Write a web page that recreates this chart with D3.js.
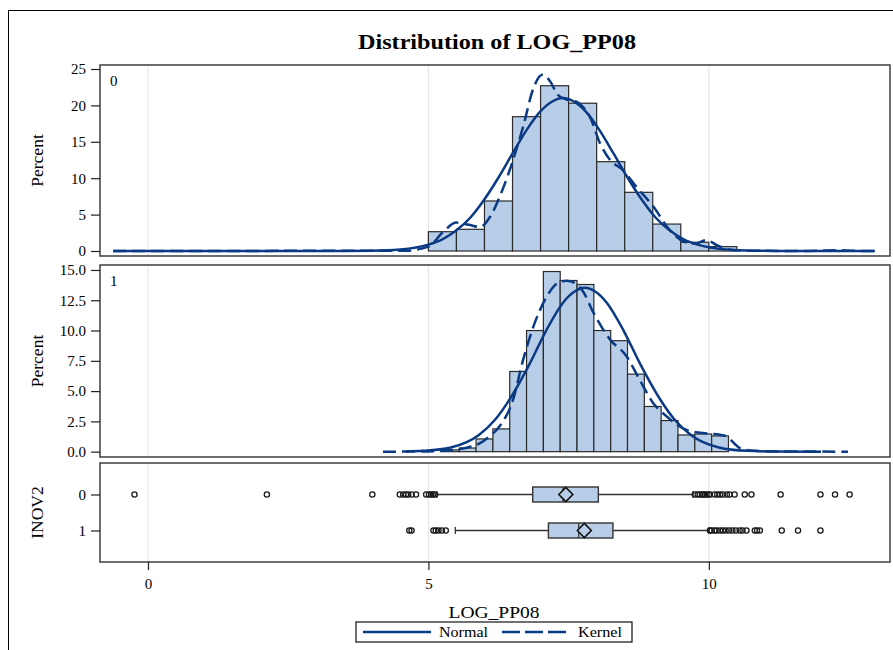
<!DOCTYPE html>
<html>
<head>
<meta charset="utf-8">
<script src="https://cdn.jsdelivr.net/npm/d3@7"></script>
<style>
  body { margin: 0; background: #fff; }
  text { font-family: "Liberation Serif", "Times New Roman", serif; fill: #000; }
</style>
</head>
<body>
<svg id="chart" width="893" height="650"></svg>
<script>
// histogram bins, INOV2 = 0 (midpoints, percent)
const mid0 = [5.25, 5.75, 6.25, 6.75, 7.25, 7.75, 8.25, 8.75, 9.25, 9.75, 10.25];
const pct0 = [2.65, 2.98, 6.87, 18.45, 22.7, 20.3, 12.27, 8.06, 3.7, 1.2, 0.6];
const binW0 = 0.5;
// histogram bins, INOV2 = 1
const mid1 = [5.4, 5.7, 6.0, 6.3, 6.6, 6.9, 7.2, 7.5, 7.8, 8.1, 8.4, 8.7, 9.0, 9.3, 9.6, 9.9, 10.2];
const pct1 = [0.15, 0.3, 1.05, 1.88, 6.62, 10.0, 14.87, 14.13, 13.8, 10.0, 9.16, 6.4, 3.73, 2.57, 1.38, 1.46, 1.3];
const binW1 = 0.3;

// fitted curves: [LOG_PP08, percent]
const normal0 = [[-0.62,0],[3.5,0.01],[4.0,0.03],[4.5,0.2],[5.0,0.87],[5.25,1.6],[5.5,2.84],[5.75,4.6],[6.0,7.1],[6.25,10.1],[6.5,13.4],[6.75,16.6],[7.0,19.2],[7.2,20.5],[7.4,21.0],[7.6,20.5],[7.8,19.2],[8.05,16.6],[8.3,13.4],[8.55,10.1],[8.8,7.1],[9.05,4.6],[9.3,2.84],[9.55,1.6],[9.8,0.87],[10.3,0.2],[10.8,0.03],[11.3,0.01],[12.96,0]];
const kernel0 = [[-0.62,0],[4.6,0.05],[5.0,0.6],[5.26,2.6],[5.5,3.9],[5.72,3.6],[5.92,3.3],[6.1,4.7],[6.3,8.0],[6.51,12.5],[6.69,17.1],[6.87,22.3],[7.03,24.2],[7.18,23.2],[7.3,21.5],[7.46,20.8],[7.64,20.5],[7.88,18.4],[8.06,14.8],[8.24,12.5],[8.47,11.1],[8.71,8.8],[9.01,6.1],[9.3,2.9],[9.55,1.3],[9.75,1.0],[9.96,1.5],[10.14,0.8],[10.43,0.15],[10.8,0.03],[11.8,0.01],[12.25,0.12],[12.6,0.02],[12.96,0]];
const normal1 = [[4.6,0.02],[4.9,0.07],[5.4,0.35],[5.9,1.38],[6.2,2.7],[6.5,4.7],[6.8,7.2],[7.1,10.0],[7.4,12.3],[7.6,13.2],[7.79,13.53],[7.98,13.2],[8.18,12.3],[8.48,10.0],[8.78,7.2],[9.08,4.7],[9.38,2.7],[9.68,1.38],[10.18,0.35],[10.68,0.07],[11.2,0.01],[12.0,0]];
const kernel1 = [[4.19,0],[4.9,0.02],[5.32,0.1],[5.7,0.35],[5.92,0.7],[6.1,1.3],[6.27,2.1],[6.51,4.3],[6.69,7.6],[6.87,10.3],[7.11,12.8],[7.3,13.9],[7.46,14.1],[7.62,13.9],[7.76,13.2],[7.94,11.5],[8.24,9.25],[8.53,7.9],[8.77,5.9],[9.01,4.0],[9.25,2.9],[9.6,1.8],[9.96,1.5],[10.2,1.4],[10.32,1.25],[10.45,0.7],[10.55,0.3],[10.8,0.08],[11.2,0.02],[12.48,0]];

// box plot summary per INOV2 group
const groups = ['0', '1'];
const whiskLo = [5.15, 5.48];
const q1 = [6.86, 7.14];
const median = [7.40, 7.68];
const q3 = [8.03, 8.29];
const whiskHi = [9.72, 10.0];
const means = [7.45, 7.78];
const outliers0 = [-0.24, 2.12, 4.0, 4.49, 4.55, 4.6, 4.64, 4.7, 4.78, 4.96, 5.01, 5.05, 5.08, 5.12, 9.75, 9.8, 9.84, 9.88, 9.9, 9.93, 9.96, 10.0, 10.02, 10.1, 10.15, 10.2, 10.25, 10.32, 10.37, 10.46, 10.64, 10.76, 11.28, 11.99, 12.25, 12.51];
const outliers1 = [4.66, 4.7, 5.09, 5.13, 5.18, 5.24, 5.31, 10.02, 10.05, 10.1, 10.14, 10.2, 10.25, 10.3, 10.36, 10.42, 10.48, 10.55, 10.6, 10.67, 10.82, 10.86, 10.91, 11.3, 11.59, 11.99];

const xTicks = [0, 5, 10];
const yTicks0 = [0, 5, 10, 15, 20, 25];
const yTicks1 = [0, 2.5, 5, 7.5, 10, 12.5, 15];
const legendLabels = ['Normal', 'Kernel'];

const barFill = '#b8cee8';
const lineColor = '#0b3a84';
const frameColor = '#4a4a4a';

const svg = d3.select('#chart');
const left = 100, right = 890;

svg.append('rect').attr('width', 893).attr('height', 650).attr('fill', '#fff');
svg.append('rect')
    .attr('x', 8.5).attr('y', 10.5).attr('width', 900).attr('height', 700)
    .attr('fill', 'none').attr('stroke', '#000').attr('stroke-width', 1);

const x = d3.scaleLinear().domain([-0.855, 13.23]).range([left, right]);

const panels = [
  { top: 65, bottom: 256, y: d3.scaleLinear().domain([-0.687, 25.55]).range([256, 65]),
    mids: mid0, pcts: pct0, w: binW0, normal: normal0, kernel: kernel0, ticks: yTicks0, fmt: d3.format('d'), label: '0' },
  { top: 265, bottom: 457, y: d3.scaleLinear().domain([-0.44, 15.41]).range([457, 265]),
    mids: mid1, pcts: pct1, w: binW1, normal: normal1, kernel: kernel1, ticks: yTicks1, fmt: d3.format('.1f'), label: '1' }
];

function gridlines(top, bottom) {
  svg.append('g').selectAll('line')
    .data(xTicks).enter().append('line')
      .attr('x1', (d) => x(d)).attr('x2', (d) => x(d))
      .attr('y1', top).attr('y2', bottom)
      .attr('stroke', '#e4e4e4').attr('stroke-width', 1);
}

function border(top, bottom) {
  svg.append('rect')
    .attr('x', left).attr('y', top).attr('width', right - left).attr('height', bottom - top)
    .attr('fill', 'none').attr('stroke', frameColor).attr('stroke-width', 1.6);
}

function styleAxis(g) {
  g.select('.domain').remove();
  g.selectAll('.tick line').attr('stroke', '#222').attr('stroke-width', 1.2);
  g.selectAll('.tick text').style('font-size', '15px')
    .style('font-family', '"Liberation Serif", "Times New Roman", serif');
}

panels.forEach((p) => {
  gridlines(p.top, p.bottom);

  const bars = p.mids.map((m, i) => ({ lo: m - p.w / 2, hi: m + p.w / 2, v: p.pcts[i] }));
  svg.append('g').selectAll('rect')
    .data(bars).enter().append('rect')
      .attr('x', (d) => x(d.lo))
      .attr('width', (d) => x(d.hi) - x(d.lo))
      .attr('y', (d) => p.y(d.v))
      .attr('height', (d) => p.y(0) - p.y(d.v))
      .attr('fill', barFill)
      .attr('stroke', '#2b2b2b').attr('stroke-width', 1.2);

  const line = d3.line()
      .x((d) => x(d[0]))
      .y((d) => p.y(d[1]))
      .curve(d3.curveMonotoneX);

  svg.append('path').datum(p.normal)
      .attr('d', line).attr('fill', 'none')
      .attr('stroke', lineColor).attr('stroke-width', 2.5);
  svg.append('path').datum(p.kernel)
      .attr('d', line).attr('fill', 'none')
      .attr('stroke', lineColor).attr('stroke-width', 2.5)
      .attr('stroke-dasharray', '13,6');

  border(p.top, p.bottom);

  svg.append('g')
      .attr('transform', 'translate(' + left + ',0)')
      .call(d3.axisLeft(p.y).tickValues(p.ticks).tickFormat(p.fmt).tickSize(9).tickPadding(5))
      .call(styleAxis);

  svg.append('text')
      .attr('x', 110).attr('y', p.top + 21)
      .style('font-size', '15px')
      .text(p.label);

  svg.append('text')
      .attr('transform', 'translate(43,' + (p.top + p.bottom) / 2 + ') rotate(-90)')
      .attr('text-anchor', 'middle')
      .style('font-size', '17.5px')
      .text('Percent');
});

// box plot panel
const boxTop = 463, boxBottom = 562;
const yb = d3.scalePoint().domain(groups).range([boxTop, boxBottom]).padding(0.875);
gridlines(boxTop, boxBottom);

const boxes = groups.map((g, i) => ({
  g, lo: whiskLo[i], q1: q1[i], med: median[i], q3: q3[i], hi: whiskHi[i], mean: means[i],
  out: i === 0 ? outliers0 : outliers1
}));
const boxH = 15;

const bg = svg.append('g').selectAll('g').data(boxes).enter().append('g');
bg.append('line')
    .attr('x1', (d) => x(d.lo)).attr('x2', (d) => x(d.q1))
    .attr('y1', (d) => yb(d.g)).attr('y2', (d) => yb(d.g))
    .attr('stroke', '#333').attr('stroke-width', 1.3);
bg.append('line')
    .attr('x1', (d) => x(d.q3)).attr('x2', (d) => x(d.hi))
    .attr('y1', (d) => yb(d.g)).attr('y2', (d) => yb(d.g))
    .attr('stroke', '#333').attr('stroke-width', 1.3);
bg.selectAll('.cap').data((d) => [[d.lo, d.g], [d.hi, d.g]]).enter().append('line')
    .attr('x1', (d) => x(d[0])).attr('x2', (d) => x(d[0]))
    .attr('y1', (d) => yb(d[1]) - 3.5).attr('y2', (d) => yb(d[1]) + 3.5)
    .attr('stroke', '#333').attr('stroke-width', 1.3);
bg.append('rect')
    .attr('x', (d) => x(d.q1)).attr('width', (d) => x(d.q3) - x(d.q1))
    .attr('y', (d) => yb(d.g) - boxH / 2).attr('height', boxH)
    .attr('fill', barFill).attr('stroke', '#333').attr('stroke-width', 1.4);
bg.append('line')
    .attr('x1', (d) => x(d.med)).attr('x2', (d) => x(d.med))
    .attr('y1', (d) => yb(d.g) - boxH / 2).attr('y2', (d) => yb(d.g) + boxH / 2)
    .attr('stroke', '#333').attr('stroke-width', 1.3);
bg.append('path')
    .attr('d', (d) => {
      const cx = x(d.mean), cy = yb(d.g);
      return 'M' + (cx - 7) + ',' + cy + 'L' + cx + ',' + (cy - 7) + 'L' + (cx + 7) + ',' + cy + 'L' + cx + ',' + (cy + 7) + 'Z';
    })
    .attr('fill', barFill).attr('stroke', '#111').attr('stroke-width', 1.6);
bg.selectAll('circle').data((d) => d.out.map((v) => [v, d.g])).enter().append('circle')
    .attr('cx', (d) => x(d[0])).attr('cy', (d) => yb(d[1]))
    .attr('r', 2.6)
    .attr('fill', 'none').attr('stroke', '#1a1a1a').attr('stroke-width', 1.3);

border(boxTop, boxBottom);

svg.append('g')
    .attr('transform', 'translate(' + left + ',0)')
    .call(d3.axisLeft(yb).tickSize(9).tickPadding(5))
    .call(styleAxis);

svg.append('g')
    .attr('transform', 'translate(0,' + boxBottom + ')')
    .call(d3.axisBottom(x).tickValues(xTicks).tickFormat(d3.format('d')).tickSize(8).tickPadding(8))
    .call(styleAxis);

svg.append('text')
    .attr('transform', 'translate(43,' + (boxTop + boxBottom) / 2 + ') rotate(-90)')
    .attr('text-anchor', 'middle')
    .style('font-size', '17.5px')
    .text('INOV2');

// titles
svg.append('text')
    .attr('x', 497).attr('y', 49)
    .attr('text-anchor', 'middle')
    .attr('textLength', 278).attr('lengthAdjust', 'spacingAndGlyphs')
    .style('font-size', '22px').style('font-weight', 'bold')
    .text('Distribution of LOG_PP08');

svg.append('text')
    .attr('x', 494).attr('y', 618)
    .attr('text-anchor', 'middle')
    .attr('textLength', 91).attr('lengthAdjust', 'spacingAndGlyphs')
    .style('font-size', '17.5px')
    .text('LOG_PP08');

// legend
const legend = svg.append('g');
legend.append('rect')
    .attr('x', 356).attr('y', 622).attr('width', 276).attr('height', 20)
    .attr('fill', '#fff').attr('stroke', '#111').attr('stroke-width', 1.2);
const legendItems = [
  { label: legendLabels[0], x0: 363, x1: 431, tx: 439, tw: 49, dash: null },
  { label: legendLabels[1], x0: 502, x1: 566, tx: 578, tw: 44, dash: '18,5' }
];
legendItems.forEach((d) => {
  legend.append('line')
      .attr('x1', d.x0).attr('x2', d.x1).attr('y1', 632).attr('y2', 632)
      .attr('stroke', lineColor).attr('stroke-width', 2.5)
      .attr('stroke-dasharray', d.dash);
  legend.append('text')
      .attr('x', d.tx).attr('y', 637)
      .attr('textLength', d.tw).attr('lengthAdjust', 'spacingAndGlyphs')
      .style('font-size', '15px')
      .text(d.label);
});
</script>
</body>
</html>
